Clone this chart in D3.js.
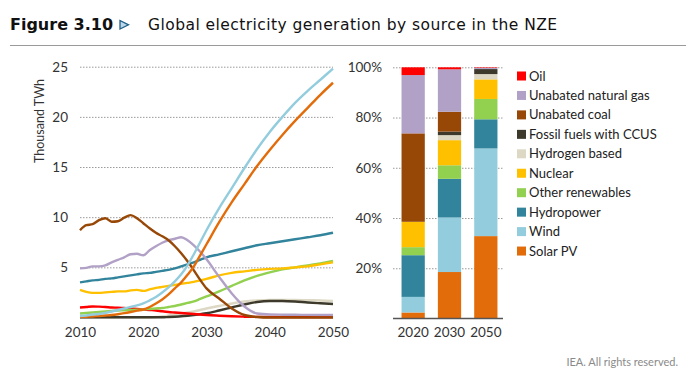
<!DOCTYPE html>
<html>
<head>
<meta charset="utf-8">
<script src="https://cdn.jsdelivr.net/npm/d3@7"></script>
<style>
  body { margin: 0; background: #fff; }
  svg { display: block; font-family: Lato, "Open Sans", sans-serif; }
</style>
</head>
<body>
<svg id="chart" width="700" height="378"></svg>
<script>
// years for the line chart (annual to 2030, then every two years)
const years = [2010, 2011, 2012, 2013, 2014, 2015, 2016, 2017, 2018, 2019, 2020,
  2021, 2022, 2023, 2024, 2025, 2026, 2027, 2028, 2029, 2030,
  2032, 2034, 2036, 2038, 2040, 2042, 2044, 2046, 2048, 2050]

// thousand TWh
const oil = [1.0, 1.05, 1.1, 1.08, 1.05, 1.0, 0.98, 0.95, 0.9, 0.85, 0.8,
  0.75, 0.7, 0.62, 0.55, 0.5, 0.45, 0.4, 0.35, 0.3, 0.25,
  0.18, 0.12, 0.08, 0.06, 0.05, 0.05, 0.05, 0.05, 0.05, 0.05]
const gas = [4.9, 4.95, 5.1, 5.1, 5.2, 5.5, 5.75, 6.0, 6.3, 6.35, 6.2,
  6.7, 7.1, 7.45, 7.7, 7.85, 8.0, 7.7, 7.2, 6.55, 5.8,
  4.05, 2.4, 1.1, 0.4, 0.3, 0.28, 0.27, 0.26, 0.25, 0.25]
const coal = [8.7, 9.2, 9.3, 9.7, 9.9, 9.55, 9.6, 9.95, 10.2, 9.9, 9.4,
  8.9, 8.45, 8.1, 7.7, 7.1, 6.4, 5.6, 4.7, 3.75, 2.9,
  1.9, 0.9, 0.25, 0.05, 0, 0, 0, 0, 0, 0]
const ccus = [0.02, 0.02, 0.02, 0.02, 0.02, 0.02, 0.02, 0.02, 0.02, 0.02, 0.02,
  0.02, 0.02, 0.02, 0.05, 0.08, 0.12, 0.18, 0.25, 0.33, 0.42,
  0.7, 1.0, 1.3, 1.55, 1.65, 1.65, 1.6, 1.5, 1.42, 1.35]
const hydrogen = [0, 0, 0, 0, 0, 0, 0, 0, 0, 0, 0,
  0, 0.05, 0.1, 0.2, 0.3, 0.4, 0.5, 0.6, 0.75, 0.9,
  1.15, 1.4, 1.6, 1.7, 1.75, 1.75, 1.75, 1.72, 1.7, 1.65]
const nuclear = [2.75, 2.55, 2.45, 2.45, 2.5, 2.55, 2.6, 2.6, 2.7, 2.75, 2.65,
  2.8, 2.95, 3.05, 3.15, 3.25, 3.35, 3.45, 3.55, 3.7, 3.85,
  4.2, 4.45, 4.6, 4.75, 4.85, 4.9, 5.0, 5.1, 5.3, 5.5]
const otherRen = [0.4, 0.45, 0.5, 0.55, 0.6, 0.65, 0.7, 0.72, 0.75, 0.78, 0.8,
  0.85, 0.9, 0.95, 1.05, 1.15, 1.3, 1.45, 1.6, 1.85, 2.1,
  2.6, 3.15, 3.7, 4.15, 4.5, 4.8, 5.0, 5.2, 5.4, 5.65]
const hydro = [3.5, 3.6, 3.7, 3.75, 3.85, 3.9, 4.0, 4.1, 4.2, 4.3, 4.4,
  4.45, 4.55, 4.65, 4.75, 4.9, 5.1, 5.3, 5.5, 5.75, 6.0,
  6.3, 6.6, 6.9, 7.2, 7.4, 7.6, 7.8, 8.0, 8.2, 8.45]
const wind = [0.15, 0.2, 0.3, 0.35, 0.45, 0.6, 0.75, 0.9, 1.05, 1.2, 1.4,
  1.7, 2.05, 2.5, 3.0, 3.6, 4.3, 5.2, 6.3, 7.5, 8.7,
  10.9, 12.9, 14.9, 16.8, 18.5, 20.0, 21.4, 22.6, 23.7, 24.8]
const solar = [0.05, 0.08, 0.1, 0.15, 0.2, 0.25, 0.33, 0.43, 0.55, 0.68, 0.8,
  1.05, 1.4, 1.8, 2.3, 2.9, 3.5, 4.25, 5.1, 6.2, 7.3,
  9.5, 11.5, 13.3, 15.1, 16.7, 18.2, 19.6, 20.9, 22.2, 23.4]

// shares (%) for the stacked bars
const barYears = ["2020", "2030", "2050"]
const shareSolar = [2.4, 18.5, 32.8]
const shareWind = [6.2, 21.7, 34.9]
const shareHydro = [16.6, 15.4, 11.6]
const shareOther = [3.2, 5.4, 8.1]
const shareNuclear = [10.1, 10.0, 7.8]
const shareHydrogen = [0, 2.0, 2.1]
const shareCcus = [0, 1.4, 2.0]
const shareCoal = [35.2, 7.9, 0]
const shareGas = [23.2, 16.9, 0.5]
const shareOil = [3.1, 0.8, 0.2]

const lineTicks = [5, 10, 15, 20, 25]
const yearTicks = [2010, 2020, 2030, 2040, 2050]
const pctTicks = [20, 40, 60, 80, 100]

// stacking order bottom -> top; legend is shown top -> bottom
const sources = [
  { key: "solar", name: "Solar PV", color: "#e36c0a", values: solar, share: shareSolar },
  { key: "wind", name: "Wind", color: "#93cddd", values: wind, share: shareWind },
  { key: "hydro", name: "Hydropower", color: "#31849b", values: hydro, share: shareHydro },
  { key: "other", name: "Other renewables", color: "#92d050", values: otherRen, share: shareOther },
  { key: "nuclear", name: "Nuclear", color: "#ffc000", values: nuclear, share: shareNuclear },
  { key: "hydrogen", name: "Hydrogen based", color: "#ddd8c4", values: hydrogen, share: shareHydrogen },
  { key: "ccus", name: "Fossil fuels with CCUS", color: "#3d3a2c", values: ccus, share: shareCcus },
  { key: "coal", name: "Unabated coal", color: "#974706", values: coal, share: shareCoal },
  { key: "gas", name: "Unabated natural gas", color: "#b2a1c7", values: gas, share: shareGas },
  { key: "oil", name: "Oil", color: "#ff0000", values: oil, share: shareOil }
]

const svg = d3.select("#chart")

// title
svg.append("text")
  .attr("x", 10).attr("y", 30)
  .attr("font-family", "'DejaVu Sans', sans-serif")
  .attr("font-weight", "bold").attr("font-size", 16)
  .attr("fill", "#111")
  .text("Figure 3.10")
svg.append("path")
  .attr("d", "M120,20.5 L128.5,24.8 L120,29 Z")
  .attr("fill", "#bcd7ea").attr("stroke", "#1f5f86").attr("stroke-width", 1.3)
svg.append("text")
  .attr("x", 148).attr("y", 30)
  .attr("font-family", "'DejaVu Sans', sans-serif")
  .attr("font-size", 15.5).attr("letter-spacing", 0.45).attr("fill", "#111")
  .text("Global electricity generation by source in the NZE")
svg.append("line")
  .attr("x1", 10).attr("x2", 686).attr("y1", 45.5).attr("y2", 45.5)
  .attr("stroke", "#9a9a9a").attr("stroke-width", 1)

// ---------- line chart ----------
const x = d3.scaleLinear().domain([2010, 2050]).range([80, 333])
const y = d3.scaleLinear().domain([0, 25]).range([317.5, 66.7])

const yAxisL = svg.append("g")
  .attr("transform", "translate(80,0)")
  .call(d3.axisLeft(y).tickValues(lineTicks).tickSize(-(333 - 80)).tickPadding(12))
yAxisL.select(".domain").remove()
yAxisL.selectAll("line")
  .attr("stroke", "#9a9a9a").attr("stroke-dasharray", "1.5,1.5")
yAxisL.selectAll("text")
  .attr("font-size", 13.5).attr("fill", "#333").attr("font-family", "Lato, sans-serif")

const xAxisL = svg.append("g")
  .attr("transform", "translate(0,317.5)")
  .call(d3.axisBottom(x).tickValues(yearTicks).tickSize(0).tickPadding(10).tickFormat(d3.format("d")))
xAxisL.select(".domain").remove()
xAxisL.selectAll("text")
  .attr("font-size", 13.5).attr("fill", "#333").attr("font-family", "Lato, sans-serif")

svg.append("text")
  .attr("transform", "translate(44,121) rotate(-90)")
  .attr("text-anchor", "middle")
  .attr("font-size", 12.5).attr("fill", "#333")
  .text("Thousand TWh")

const line = d3.line()
  .x((d, i) => x(years[i]))
  .y(d => y(d))
  .curve(d3.curveMonotoneX)

const drawOrder = ["hydrogen", "ccus", "oil", "other", "nuclear", "hydro", "gas", "coal", "solar", "wind"]
svg.append("g")
  .selectAll("path")
  .data(drawOrder.map(k => sources.find(s => s.key === k)))
  .join("path")
  .attr("d", d => line(d.values))
  .attr("fill", "none")
  .attr("stroke", d => d.color)
  .attr("stroke-width", 2.4)
  .attr("stroke-linejoin", "round")

// ---------- stacked bars ----------
const xb = d3.scaleBand().domain(barYears).range([395, 504]).paddingInner(0.36).paddingOuter(0.18)
const yb = d3.scaleLinear().domain([0, 100]).range([318.5, 67.3])

const yAxisR = svg.append("g")
  .attr("transform", "translate(393,0)")
  .call(d3.axisLeft(yb).tickValues(pctTicks).tickSize(-(503 - 393)).tickPadding(11).tickFormat(d => d + "%"))
yAxisR.select(".domain").remove()
yAxisR.selectAll("line")
  .attr("stroke", "#9a9a9a").attr("stroke-dasharray", "1.5,1.5")
yAxisR.selectAll("text")
  .attr("font-size", 13.5).attr("fill", "#333").attr("font-family", "Lato, sans-serif")

const table = barYears.map((yr, i) => {
  const row = { year: yr }
  sources.forEach(s => { row[s.key] = s.share[i] })
  return row
})
const stacked = d3.stack().keys(sources.map(s => s.key))(table)

svg.append("g")
  .selectAll("g")
  .data(stacked)
  .join("g")
  .attr("fill", (d, i) => sources[i].color)
  .selectAll("rect")
  .data(d => d)
  .join("rect")
  .attr("x", d => xb(d.data.year))
  .attr("width", xb.bandwidth())
  .attr("y", d => yb(d[1]))
  .attr("height", d => yb(d[0]) - yb(d[1]))

const xAxisR = svg.append("g")
  .attr("transform", "translate(0,318.5)")
  .call(d3.axisBottom(xb).tickSize(0).tickPadding(9))
xAxisR.select(".domain").remove()
xAxisR.selectAll("text")
  .attr("font-size", 13.5).attr("fill", "#333").attr("font-family", "Lato, sans-serif")

svg.append("line")
  .attr("x1", 393).attr("x2", 503).attr("y1", 318.5).attr("y2", 318.5)
  .attr("stroke", "#555").attr("stroke-width", 1.5)

// legend
const legend = svg.append("g")
  .selectAll("g")
  .data(sources.slice().reverse())
  .join("g")
  .attr("transform", (d, i) => `translate(517,${76 + i * 19.45})`)
legend.append("rect")
  .attr("x", 0).attr("y", -4.5).attr("width", 9).attr("height", 9)
  .attr("fill", d => d.color)
legend.append("text")
  .attr("x", 12).attr("dy", "0.35em")
  .attr("font-size", 13).attr("fill", "#222")
  .text(d => d.name)

// footer
svg.append("text")
  .attr("x", 678).attr("y", 366)
  .attr("text-anchor", "end")
  .attr("font-size", 11).attr("fill", "#8a8a8a")
  .text("IEA. All rights reserved.")
</script>
</body>
</html>
